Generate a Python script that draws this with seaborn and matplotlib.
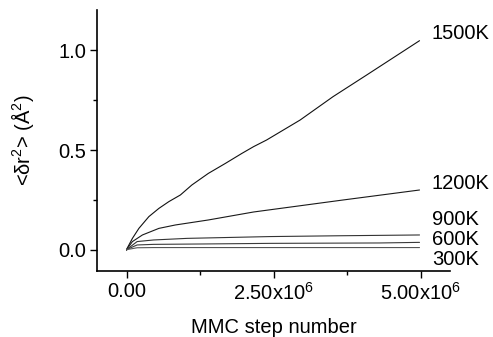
import numpy as np
import pandas as pd
import seaborn as sns
import matplotlib
matplotlib.use("Agg")
import matplotlib.pyplot as plt
from matplotlib.ticker import FixedLocator

# Mean-square displacement vs. MMC step (steps in units of 1e6)
steps_1500 = [0.0, 0.01, 0.10, 0.21, 0.38, 0.55, 0.72, 0.915, 1.11, 1.39, 1.68, 1.96, 2.16,
              2.38, 2.95, 3.51, 4.08, 4.98]
msd_1500 = [0.0, 0.008, 0.058, 0.108, 0.167, 0.208, 0.242, 0.275, 0.325, 0.383, 0.433, 0.483,
            0.517, 0.55, 0.65, 0.767, 0.875, 1.047]

steps_1200 = [0.0, 0.01, 0.10, 0.27, 0.55, 0.83, 1.39, 2.16, 3.68, 4.98]
msd_1200 = [0.0, 0.006, 0.042, 0.075, 0.108, 0.125, 0.15, 0.19, 0.25, 0.30]

steps_900 = [0.0, 0.01, 0.18, 0.46, 1.03, 2.44, 3.6, 4.98]
msd_900 = [0.0, 0.004, 0.042, 0.05, 0.058, 0.067, 0.071, 0.075]

steps_600 = [0.0, 0.01, 0.18, 0.46, 1.31, 2.44, 4.3, 4.98]
msd_600 = [0.0, 0.003, 0.025, 0.028, 0.03, 0.033, 0.035, 0.038]

steps_300 = [0.0, 0.01, 0.18, 0.46, 1.31, 2.44, 4.98]
msd_300 = [0.0, 0.002, 0.011, 0.012, 0.012, 0.012, 0.012]

temperatures = ["1500K", "1200K", "900K", "600K", "300K"]
label_y = [1.085, 0.335, 0.15, 0.05, -0.05]

series = {
    "1500K": (steps_1500, msd_1500),
    "1200K": (steps_1200, msd_1200),
    "900K": (steps_900, msd_900),
    "600K": (steps_600, msd_600),
    "300K": (steps_300, msd_300),
}

frames = []
for name in temperatures:
    s, m = series[name]
    frames.append(pd.DataFrame({"step": np.array(s) * 1e6, "msd": m, "T": name}))
df = pd.concat(frames, ignore_index=True)

sns.set_style("ticks")
plt.rcParams["font.family"] = ["Liberation Sans", "DejaVu Sans"]
plt.rcParams["mathtext.fontset"] = "custom"
plt.rcParams["mathtext.rm"] = "Liberation Sans"
plt.rcParams["mathtext.it"] = "Liberation Sans:italic"
for key in ["text.color", "axes.labelcolor", "xtick.color", "ytick.color", "axes.edgecolor"]:
    plt.rcParams[key] = "black"

FS = 14.5

fig = plt.figure(figsize=(4.93, 3.37), dpi=100)
ax = fig.add_axes([0.197, 0.196, 0.716, 0.774])

palette = {"1500K": "#111111", "1200K": "#1a1a1a", "900K": "#333333",
           "600K": "#3a3a3a", "300K": "#555555"}
sns.lineplot(data=df, x="step", y="msd", hue="T", palette=palette,
             linewidth=0.8, legend=False, ax=ax, sort=False)

for name, y in zip(temperatures, label_y):
    ax.text(5.19e6, y, name, fontsize=FS, ha="left", va="center")

ax.set_xlim(-0.5e6, 5.5e6)
ax.set_ylim(-0.105, 1.2)

ax.xaxis.set_major_locator(FixedLocator([0, 2.5e6, 5e6]))
ax.xaxis.set_minor_locator(FixedLocator([1.25e6, 3.75e6]))
ax.set_xticklabels(["0.00", r"2.50x10$^{6}$", r"5.00x10$^{6}$"])
ax.yaxis.set_major_locator(FixedLocator([0.0, 0.5, 1.0]))
ax.yaxis.set_minor_locator(FixedLocator([0.25, 0.75]))
ax.set_yticklabels(["0.0", "0.5", "1.0"])

ax.tick_params(which="major", direction="out", length=5, width=1.0, labelsize=FS, pad=3)
ax.tick_params(which="minor", direction="out", length=3, width=1.0)

for sp in ["top", "right"]:
    ax.spines[sp].set_visible(False)
for sp in ["left", "bottom"]:
    ax.spines[sp].set_linewidth(1.2)

ax.set_xlabel("MMC step number", fontsize=FS, labelpad=10)
ax.set_ylabel(r"<δr$^{2}$> (Å$^{2}$)", fontsize=FS, labelpad=16)

fig.savefig("out.png", dpi=100)
